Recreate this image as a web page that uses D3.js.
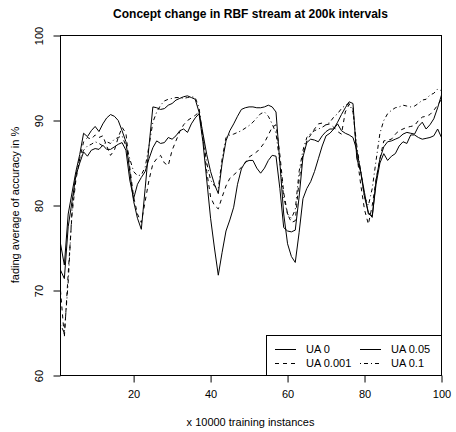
<!DOCTYPE html>
<html>
<head>
<meta charset="utf-8">
<script src="https://cdn.jsdelivr.net/npm/d3@7/dist/d3.min.js"></script>
<style>
  body { margin: 0; background: #fff; }
  svg { display: block; font-family: "Liberation Sans", Arial, Helvetica, sans-serif; }
</style>
</head>
<body>
<svg id="chart" width="456" height="432"></svg>
<script>
// x positions: 1..100 (x 10000 training instances)
const steps = d3.range(1, 101);

const xTicks = [20, 40, 60, 80, 100];
const yTicks = [60, 70, 80, 90, 100];

// fading average of accuracy in %
const ua0 = [
  75.5, 73.0, 79.0, 81.5, 84.0, 86.0, 88.5, 88.1, 88.8, 89.3,
  88.7, 89.6, 90.3, 90.7, 90.5, 90.0, 88.8, 87.5, 84.0, 80.5,
  78.5, 77.2, 82.0, 87.0, 91.6, 91.5, 91.3, 91.4, 91.8, 92.0,
  92.4, 92.6, 92.8, 92.9, 92.7, 92.5, 91.0, 88.5, 86.0, 84.0,
  82.5, 81.4, 85.0, 87.6, 88.8, 89.6, 90.5, 91.3, 91.5, 91.6,
  91.6, 91.5, 91.5, 91.6, 91.8, 91.6, 91.0, 85.0, 79.0, 75.5,
  74.0, 73.3, 76.8, 80.8, 82.0, 82.8, 84.0, 85.5, 87.0, 88.2,
  88.5, 89.0, 89.6, 88.8, 88.5, 88.3, 88.0, 86.5, 84.0, 81.5,
  79.0, 78.8, 82.5, 85.0, 86.1, 85.3, 85.8, 86.1, 87.0, 87.5,
  87.3, 88.3, 88.3, 88.0, 87.8, 87.9, 88.0, 88.2, 89.0, 88.0
];

const ua005 = [
  72.4, 71.4, 77.5, 80.5, 83.5, 85.0, 86.3, 85.8, 86.5, 86.7,
  86.6, 87.1, 86.6, 86.6, 86.9, 87.2, 87.4, 86.5, 83.0, 80.8,
  82.5, 83.3, 84.0, 85.5, 86.8, 87.6, 87.3, 87.4, 88.0, 87.8,
  88.2, 88.8, 89.0, 88.6, 89.6, 90.3, 90.8, 87.5, 83.0, 78.5,
  75.0, 71.8, 74.5, 77.0, 78.3, 79.8, 82.5, 84.3, 85.1, 85.3,
  85.3, 84.4, 83.8, 84.4, 85.3, 85.9, 85.8, 82.0, 77.4, 77.0,
  76.9, 77.1, 81.0, 85.7, 87.4, 87.8, 87.7, 87.5, 88.2, 88.7,
  89.0, 89.0, 89.8, 90.7, 91.5, 92.2, 92.0, 85.5, 84.0, 81.0,
  79.2, 78.6, 83.0, 85.5, 86.9, 87.5, 87.6, 87.8, 88.0, 88.4,
  88.6, 88.5, 88.4, 89.3, 89.8, 89.0, 89.5, 90.2, 91.5, 93.0
];

const ua0001 = [
  70.0, 64.5, 72.0, 79.0, 83.0, 85.5, 87.5, 88.0, 87.8, 88.3,
  88.0, 88.2, 87.0, 85.9, 86.5, 88.0, 89.2, 88.5, 84.5, 81.0,
  79.0, 78.0, 80.5, 83.0, 84.9, 85.5, 85.9, 85.0, 84.7, 86.5,
  87.6, 88.7, 89.5, 90.0, 90.3, 90.6, 91.0, 88.0, 84.0, 81.0,
  80.0, 79.6, 81.0, 82.3, 83.2, 83.6, 84.0, 84.5, 85.0, 85.7,
  86.0, 86.3, 86.8, 87.4, 88.3, 89.2, 89.5, 86.0, 81.5, 79.0,
  78.0, 78.2, 83.0, 86.0, 87.6, 88.3, 89.0, 89.6, 89.7, 89.5,
  89.6, 89.2, 88.7, 88.4, 91.0, 91.9, 91.5, 86.0, 82.5, 79.5,
  77.8, 80.0, 83.0, 85.5, 87.6, 87.7, 87.8, 88.4, 88.8, 89.0,
  89.2, 89.3, 89.4, 90.0, 90.4, 90.5, 90.7, 91.2, 91.8, 92.5
];

const ua01 = [
  66.0, 65.0, 71.0, 79.5, 83.5, 85.5, 86.5, 87.0, 87.2, 87.5,
  87.3, 87.0, 87.5, 87.3, 87.8, 88.0, 88.2, 87.0, 85.5, 84.0,
  83.5, 83.6, 84.5, 87.0, 89.8, 91.0, 91.8, 92.3, 92.5, 92.6,
  92.7, 92.7, 92.6, 92.7, 92.8, 92.7, 91.5, 88.0, 85.0, 83.0,
  82.3, 82.0, 85.5, 88.0, 88.3, 88.4, 88.6, 88.8, 89.1, 89.4,
  89.8, 90.3, 90.8, 91.0, 90.5, 89.6, 88.5, 85.0, 81.0, 79.0,
  78.5, 79.5, 84.0, 86.5, 88.0, 88.5, 88.8, 89.0, 89.2, 89.5,
  89.8, 90.4, 90.8, 91.4, 91.8, 92.0, 91.0, 87.0, 84.0, 81.0,
  80.0, 82.0, 85.3, 88.5, 90.0, 90.8, 91.2, 91.5, 91.6, 91.8,
  91.7, 91.6, 91.7, 92.0, 92.4, 92.5, 93.0, 93.2, 93.7, 93.5
];

const seriesNames = ["UA 0", "UA 0.05", "UA 0.001", "UA 0.1"];
const seriesValues = [ua0, ua005, ua0001, ua01];
const seriesDash = [null, null, "4,4", "1,3,4,3"];

const svg = d3.select("#chart");
const plotL = 60, plotR = 441, plotT = 35, plotB = 375;

const x = d3.scaleLinear().domain([1, 100]).range([plotL + 0.5, plotR + 0.5]);
const y = d3.scaleLinear().domain([60, 100]).range([plotB + 0.5, plotT + 0.5]);

// title
svg.append("text")
  .attr("x", (plotL + plotR) / 2)
  .attr("y", 18)
  .attr("text-anchor", "middle")
  .attr("font-size", 12)
  .attr("font-weight", "bold")
  .text("Concept change in RBF stream at 200k intervals");

// lines
const line = d3.line()
  .x((d, i) => x(steps[i]))
  .y(d => y(d));

seriesValues.forEach((vals, i) => {
  svg.append("path")
    .datum(vals)
    .attr("fill", "none")
    .attr("stroke", "#000")
    .attr("stroke-width", 1)
    .attr("stroke-dasharray", seriesDash[i])
    .attr("d", line);
});

// axes
const xAxis = svg.append("g")
  .attr("transform", `translate(0,${plotB + 0.5})`)
  .call(d3.axisBottom(x).tickValues(xTicks).tickSize(7).tickPadding(8).tickFormat(d3.format("d")));
xAxis.select(".domain").remove();
xAxis.selectAll("text").attr("font-size", 11).attr("font-family", null).attr("fill", "#000");

const yAxis = svg.append("g")
  .attr("transform", `translate(${plotL + 0.5},0)`)
  .call(d3.axisLeft(y).tickValues(yTicks).tickSize(7).tickFormat(d3.format("d")));
yAxis.select(".domain").remove();
yAxis.selectAll(".tick text")
  .attr("font-size", 11)
  .attr("font-family", null)
  .attr("fill", "#000")
  .attr("text-anchor", "middle")
  .attr("x", null)
  .attr("dy", null)
  .attr("transform", "translate(-18,0) rotate(-90)");

// box
svg.append("rect")
  .attr("x", plotL + 0.5)
  .attr("y", plotT + 0.5)
  .attr("width", plotR - plotL)
  .attr("height", plotB - plotT)
  .attr("fill", "none")
  .attr("stroke", "#000");

// axis titles
svg.append("text")
  .attr("x", (plotL + plotR) / 2)
  .attr("y", 426)
  .attr("text-anchor", "middle")
  .attr("font-size", 11)
  .text("x 10000 training instances");

svg.append("text")
  .attr("transform", `translate(19,${(plotT + plotB) / 2}) rotate(-90)`)
  .attr("text-anchor", "middle")
  .attr("font-size", 11)
  .text("fading average of accuracy in %");

// legend
const lg = svg.append("g");
lg.append("rect")
  .attr("x", 266.5).attr("y", 335.5)
  .attr("width", plotR - 266).attr("height", plotB - 335)
  .attr("fill", "#fff").attr("stroke", "#000");

const legendOrder = [0, 2, 1, 3];
legendOrder.forEach((si, k) => {
  const col = Math.floor(k / 2), row = k % 2;
  const lx = col === 0 ? 275 : 360;
  const ly = 349.5 + row * 14;
  lg.append("line")
    .attr("x1", lx).attr("x2", lx + 21)
    .attr("y1", ly).attr("y2", ly)
    .attr("stroke", "#000")
    .attr("stroke-dasharray", seriesDash[si]);
  lg.append("text")
    .attr("x", lx + 31)
    .attr("y", ly)
    .attr("dy", "0.35em")
    .attr("font-size", 11)
    .text(seriesNames[si]);
});
</script>
</body>
</html>
